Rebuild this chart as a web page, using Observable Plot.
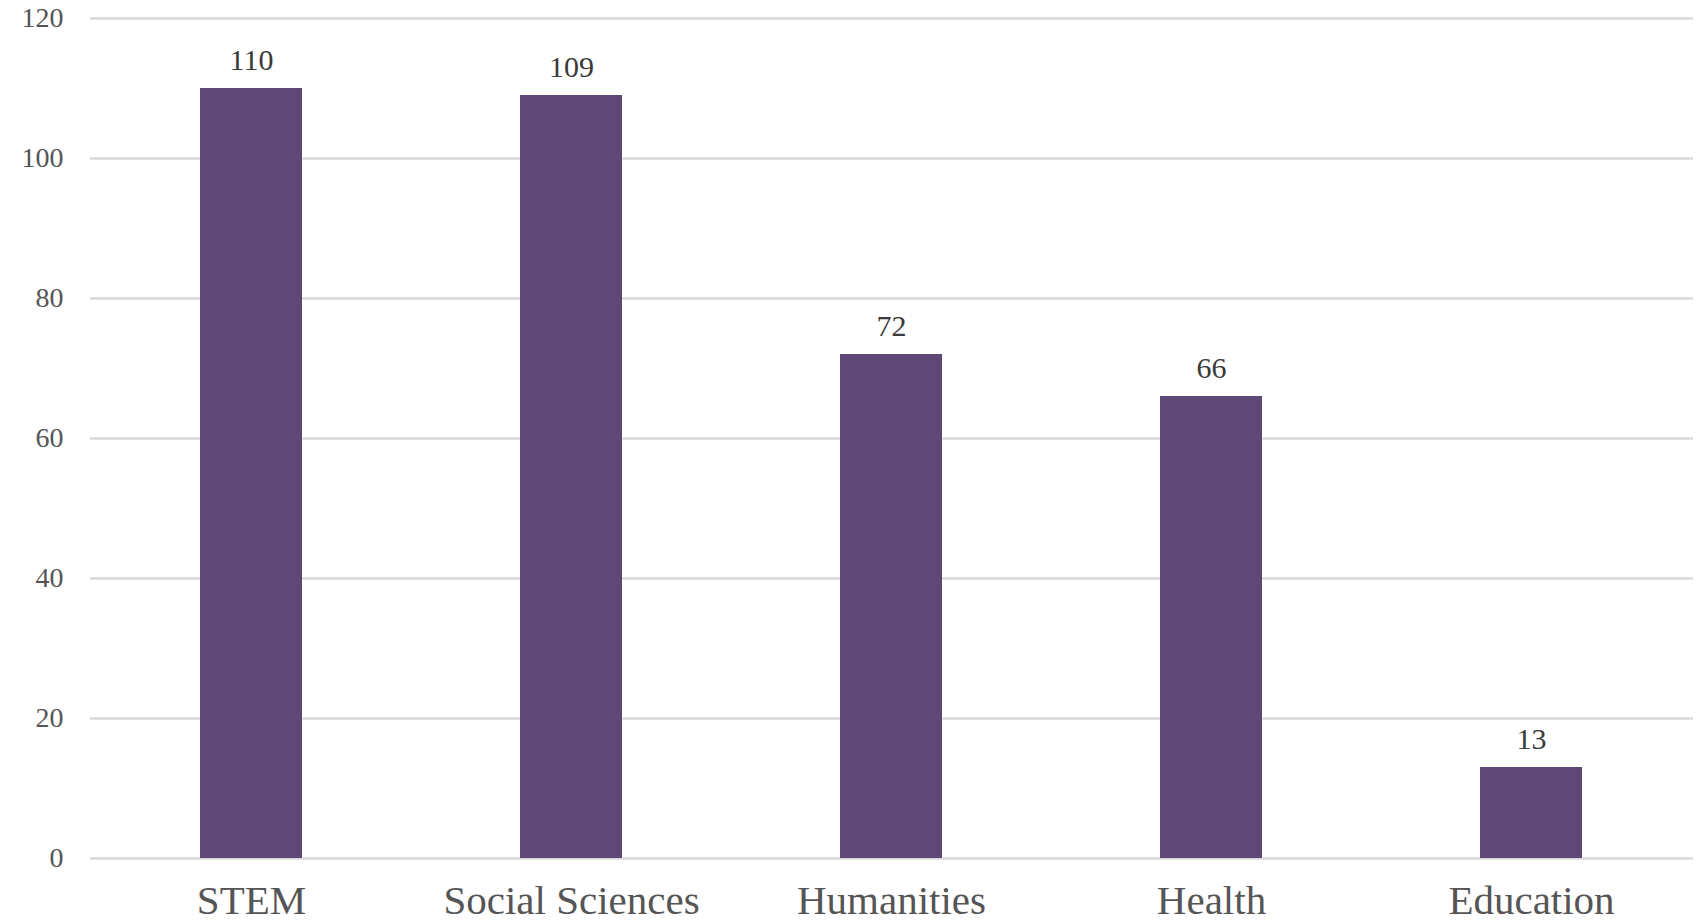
<!DOCTYPE html>
<html>
<head>
<meta charset="utf-8">
<script src="https://cdn.jsdelivr.net/npm/d3@7"></script>
<script src="https://cdn.jsdelivr.net/npm/@observablehq/plot@0.6"></script>
<style>
  html, body { margin: 0; padding: 0; background: #ffffff; }
</style>
</head>
<body>
<div id="chart"></div>
<script>
const categories = ["STEM", "Social Sciences", "Humanities", "Health", "Education"];
const counts = [110, 109, 72, 66, 13];
const yTicks = [0, 20, 40, 60, 80, 100, 120];

const data = categories.map((c, i) => ({category: c, count: counts[i]}));

const chart = Plot.plot({
  width: 1698,
  height: 924,
  marginTop: 18,
  marginBottom: 66,
  marginLeft: 90,
  marginRight: 5,
  style: {fontFamily: "Liberation Serif, serif", background: "#ffffff"},
  x: {domain: categories, paddingInner: 0.68, paddingOuter: 0.34, label: null},
  y: {domain: [0, 120], label: null},
  marks: [
    Plot.ruleY(yTicks, {stroke: "#d9d9d9", strokeWidth: 2.5}),
    Plot.barY(data, {x: "category", y: "count", fill: "#5E4875"}),
    Plot.text(data, {x: "category", y: "count", text: d => String(d.count), dy: -28, fontSize: 30, fill: "#3a3a3a"}),
    Plot.axisY({ticks: yTicks, tickSize: 0, tickPadding: 27, fontSize: 28, fill: "#555555", label: null}),
    Plot.axisX({tickSize: 0, tickPadding: 26, fontSize: 41, fill: "#555555", label: null})
  ]
});
document.getElementById("chart").appendChild(chart);
</script>
</body>
</html>
